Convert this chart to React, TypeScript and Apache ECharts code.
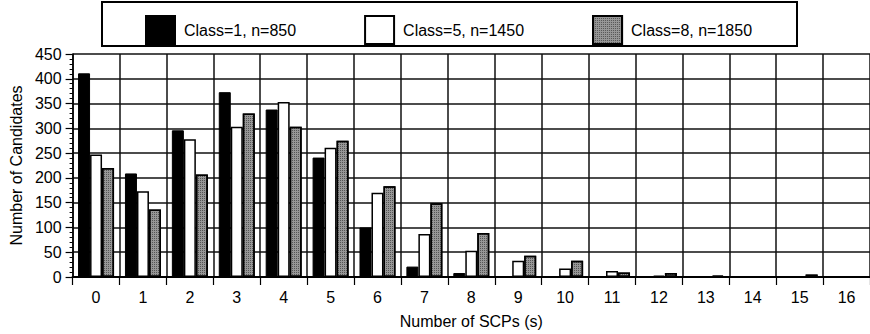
import React, { useEffect, useRef } from "react";
import * as echarts from "echarts";

const categories = ["0","1","2","3","4","5","6","7","8","9","10","11","12","13","14","15","16"];
const class1 = [411, 209, 296, 373, 338, 241, 100, 21, 8, 2, 0, 2, 1, 0, 0, 0, 0];
const class5 = [247, 173, 278, 303, 353, 261, 170, 87, 53, 33, 17, 12, 3, 1, 1, 0, 0];
const class8 = [220, 136, 207, 330, 303, 275, 183, 149, 89, 43, 33, 9, 8, 3, 1, 5, 0];
const seriesNames = ["Class=1, n=850", "Class=5, n=1450", "Class=8, n=1850"];

const FONT = "'Liberation Sans', Arial, Helvetica, sans-serif";

export default function App() {
  const ref = useRef<HTMLDivElement>(null);
  useEffect(() => {
    if (!ref.current) return;
    const chart = echarts.init(ref.current, null, { renderer: "svg" });
    const decal = {
      symbol: "rect",
      symbolSize: 1,
      color: "rgba(20,20,20,0.5)",
      dashArrayX: [1, 1],
      dashArrayY: [1, 1],
      rotation: 0,
    };
    chart.setOption({
      animation: false,
      backgroundColor: "#ffffff",
      textStyle: { fontFamily: FONT, color: "#000" },
      graphic: [
        {
          type: "rect",
          shape: { x: 102, y: 2, width: 695, height: 44 },
          style: { fill: "#fff", stroke: "#000", lineWidth: 2 },
          z: -1,
        },
      ],
      legend: {
        left: 140,
        top: 10,
        itemWidth: 29,
        itemHeight: 28,
        itemGap: 68,
        icon: "rect",
        data: seriesNames,
        textStyle: { fontSize: 16, color: "#000", fontFamily: FONT, padding: [0, 0, 0, 4] },
      },
      grid: { left: 63, top: 54, width: 808, height: 225, containLabel: false },
      xAxis: {
        type: "category",
        data: categories,
        boundaryGap: true,
        name: "Number of SCPs (s)",
        nameLocation: "middle",
        nameGap: 36,
        nameTextStyle: { fontSize: 16, color: "#000", fontFamily: FONT },
        axisLine: { show: true, lineStyle: { color: "#000", width: 2 } },
        axisTick: { show: true, length: 8, alignWithLabel: false, lineStyle: { color: "#000", width: 1.2 } },
        axisLabel: { fontSize: 16, color: "#000", margin: 12, fontFamily: FONT, interval: 0 },
        splitLine: { show: true, interval: 0, lineStyle: { color: "#111", width: 1.5 } },
      },
      yAxis: {
        type: "value",
        min: 0,
        max: 450,
        interval: 50,
        name: "Number of Candidates",
        nameLocation: "middle",
        nameGap: 46,
        nameTextStyle: { fontSize: 16, color: "#000", fontFamily: FONT },
        axisLine: { show: true, lineStyle: { color: "#000", width: 1.5 } },
        axisTick: { show: true, length: 7, lineStyle: { color: "#000", width: 1.2 } },
        minorTick: { show: true, splitNumber: 5, length: 3, lineStyle: { color: "#000", width: 1 } },
        axisLabel: { fontSize: 16, color: "#000", margin: 11, fontFamily: FONT },
        splitLine: { show: true, lineStyle: { color: "#111", width: 1.5 } },
      },
      series: [
        {
          name: seriesNames[0],
          type: "bar",
          data: class1,
          barWidth: 12,
          barGap: "0%",
          itemStyle: { color: "#000", borderColor: "#000", borderWidth: 1 },
        },
        {
          name: seriesNames[1],
          type: "bar",
          data: class5,
          barWidth: 12,
          barGap: "0%",
          itemStyle: { color: "#fff", borderColor: "#000", borderWidth: 1.5 },
        },
        {
          name: seriesNames[2],
          type: "bar",
          data: class8,
          barWidth: 12,
          barGap: "0%",
          itemStyle: { color: "#979797", borderColor: "#000", borderWidth: 1.5, decal },
        },
      ],
    });
    return () => chart.dispose();
  }, []);
  return (
    <div
      ref={ref}
      style={{ position: "fixed", left: 0, top: 0, width: 870, height: 334, background: "#fff" }}
    />
  );
}
